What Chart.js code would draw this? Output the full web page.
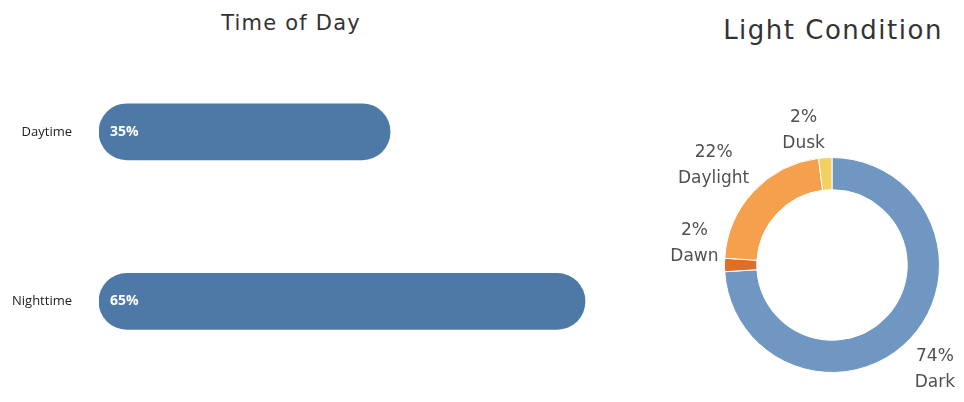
<!DOCTYPE html>
<html lang="en">
<head>
    <meta charset="UTF-8">
    <title>Time of Day / Light Condition</title>
    <script src="https://cdn.jsdelivr.net/npm/chart.js@4/dist/chart.umd.min.js"></script>
    <style>
        body {
            margin: 0;
            width: 964px;
            height: 402px;
            position: relative;
            background: #fff;
            overflow: hidden;
            font-family: "DejaVu Sans", sans-serif;
        }
        .title {
            position: absolute;
            color: #333;
            white-space: nowrap;
            transform: translate(-50%, -50%);
        }
        #t1 { left: 291px; top: 23px; font-size: 21px; letter-spacing: 1.2px; }
        #t2 { left: 833px; top: 30px; font-size: 26px; letter-spacing: 1.5px; }
        canvas { position: absolute; top: 0; }
        #barChart { left: 0; }
        #donutChart { left: 660px; }
    </style>
</head>
<body>
    <div class="title" id="t1">Time of Day</div>
    <div class="title" id="t2">Light Condition</div>
    <canvas id="barChart" width="660" height="413"></canvas>
    <canvas id="donutChart" width="304" height="402"></canvas>

    <script>
        // data
        const timeLabels = ['Daytime', 'Nighttime'];
        const timeValues = [35, 65];

        const lightLabels = ['Dark', 'Dawn', 'Daylight', 'Dusk'];
        const lightValues = [74, 2, 22, 2];
        const lightColors = ['#7097c2', '#dc6f2c', '#f5a04c', '#f2d062'];

        // writes "35%" inside each bar, near its left end
        const barLabels = {
            id: 'barLabels',
            afterDatasetsDraw(chart) {
                const ctx = chart.ctx;
                const meta = chart.getDatasetMeta(0);
                ctx.save();
                ctx.fillStyle = '#fff';
                ctx.font = '700 14px "Open Sans", sans-serif';
                ctx.textAlign = 'left';
                ctx.textBaseline = 'middle';
                meta.data.forEach((bar, i) => {
                    ctx.fillText(timeValues[i] + '%', bar.base + 11, bar.y);
                });
                ctx.restore();
            }
        };

        // percent + name outside the ring, anchored at the slice middle
        const ringLabels = {
            id: 'ringLabels',
            afterDatasetsDraw(chart) {
                const ctx = chart.ctx;
                const meta = chart.getDatasetMeta(0);
                ctx.save();
                ctx.fillStyle = '#505050';
                ctx.font = '17px "DejaVu Sans", sans-serif';
                ctx.textAlign = 'center';
                ctx.textBaseline = 'top';
                meta.data.forEach((arc, i) => {
                    const mid = (arc.startAngle + arc.endAngle) / 2;
                    const r = arc.outerRadius + 6;
                    const x = arc.x + Math.cos(mid) * r;
                    const y = arc.y + Math.sin(mid) * r;
                    const left = Math.cos(mid) < 0;
                    const top = Math.sin(mid) < 0.05;
                    const lines = [lightValues[i] + '%', lightLabels[i]];
                    const lh = 26;
                    const y0 = top ? y - lh * lines.length + 6 : y + 2;
                    const blockW = Math.max(...lines.map(t => ctx.measureText(t).width));
                    const cx = left ? x - blockW / 2 : x + blockW / 2;
                    lines.forEach((s, k) => {
                        ctx.fillText(s, cx, y0 + k * lh + 3);
                    });
                });
                ctx.restore();
            }
        };

        new Chart(document.getElementById('barChart'), {
            type: 'bar',
            data: {
                labels: timeLabels,
                datasets: [{
                    data: timeValues,
                    backgroundColor: '#4e79a7',
                    borderRadius: 28,
                    borderSkipped: false,
                    barThickness: 56,
                    base: -9.8
                }]
            },
            options: {
                indexAxis: 'y',
                responsive: false,
                animation: false,
                layout: { padding: { top: 47, bottom: 3, left: 0, right: 10 } },
                plugins: {
                    legend: { display: false },
                    tooltip: { enabled: false }
                },
                scales: {
                    x: {
                        display: false,
                        min: -9.8,
                        max: 75
                    },
                    y: {
                        grid: { display: false },
                        border: { display: false },
                        afterFit(scale) { scale.width = 99; },
                        ticks: {
                            padding: 19,
                            color: '#222',
                            font: { family: '"Open Sans", sans-serif', size: 13 }
                        }
                    }
                }
            },
            plugins: [barLabels]
        });

        new Chart(document.getElementById('donutChart'), {
            type: 'doughnut',
            data: {
                labels: lightLabels,
                datasets: [{
                    data: lightValues,
                    backgroundColor: lightColors,
                    borderColor: '#fff',
                    borderWidth: 1
                }]
            },
            options: {
                responsive: false,
                animation: false,
                cutout: '70%',
                layout: { padding: { top: 157, bottom: 29, left: 64, right: 24 } },
                plugins: {
                    legend: { display: false },
                    tooltip: { enabled: false }
                }
            },
            plugins: [ringLabels]
        });
    </script>
</body>
</html>
